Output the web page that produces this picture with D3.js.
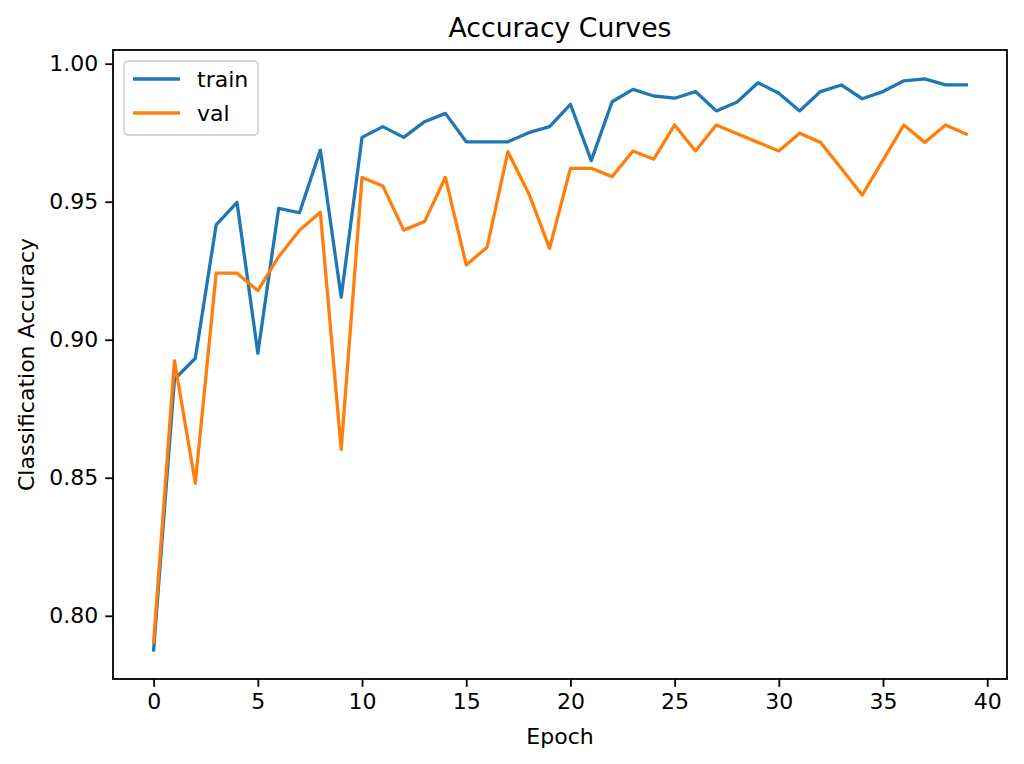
<!DOCTYPE html>
<html>
<head>
<meta charset="utf-8">
<script src="https://d3js.org/d3.v7.min.js"></script>
<style>
  body { margin: 0; background: #fff; }
  svg text { font-family: "DejaVu Sans", sans-serif; fill: #000; }
  .line { fill: none; stroke-width: 3.3px; stroke-linejoin: round; stroke-linecap: square; }
</style>
</head>
<body>
<svg width="1024" height="764"></svg>
<script>
// values
var epochs = d3.range(0, 40);
var trainAcc = [0.7876, 0.8857, 0.8933, 0.9416, 0.9498, 0.8951, 0.9476, 0.9460, 0.9687, 0.9154,
                0.9733, 0.9772, 0.9733, 0.9790, 0.9820, 0.9717, 0.9717, 0.9717, 0.9750, 0.9772,
                0.9853, 0.9649, 0.9862, 0.9907, 0.9883, 0.9875, 0.9899, 0.9829, 0.9861, 0.9931,
                0.9893, 0.9829, 0.9899, 0.9923, 0.9873, 0.9899, 0.9938, 0.9945, 0.9923, 0.9923];
var valAcc = [0.7905, 0.8924, 0.8480, 0.9241, 0.9241, 0.9178, 0.9301, 0.9397, 0.9462, 0.8603,
              0.9588, 0.9557, 0.9397, 0.9428, 0.9588, 0.9271, 0.9335, 0.9681, 0.9530, 0.9331,
              0.9621, 0.9621, 0.9591, 0.9684, 0.9654, 0.9778, 0.9684, 0.9778, 0.9746, 0.9715,
              0.9684, 0.9748, 0.9715, 0.9620, 0.9524, 0.9651, 0.9778, 0.9715, 0.9778, 0.9745];
var xTicks = [0, 5, 10, 15, 20, 25, 30, 35, 40];
var yTicks = [0.80, 0.85, 0.90, 0.95, 1.00];
var seriesNames = ["train", "val"];
var seriesColors = ["#1f77b4", "#ff7f0e"];

// plot box (not "top": that name is taken by window.top)
var pLeft = 113, pRight = 1007, pTop = 50, pBottom = 679;

var svg = d3.select("svg");

var x = d3.scaleLinear().domain([-1.95, 40.95]).range([pLeft, pRight]);
var y = d3.scaleLinear().domain([0.7771, 1.00496]).range([pBottom, pTop]);

// axes
var xAxis = d3.axisBottom(x).tickValues(xTicks).tickSize(7.8).tickPadding(7).tickFormat(d3.format("d"));
var yAxis = d3.axisLeft(y).tickValues(yTicks).tickSize(7.8).tickPadding(7).tickFormat(d3.format(".2f"));

var gx = svg.append("g").attr("transform", "translate(0," + pBottom + ")").call(xAxis);
var gy = svg.append("g").attr("transform", "translate(" + pLeft + ",0)").call(yAxis);
[gx, gy].forEach(function (g) {
  g.select(".domain").remove();
  g.selectAll(".tick line").attr("stroke", "#000").attr("stroke-width", 1.8);
  g.selectAll(".tick text").style("font-size", "22px");
});

// lines
var line = d3.line()
  .x(function (d, i) { return x(epochs[i]); })
  .y(function (d) { return y(d); });

[trainAcc, valAcc].forEach(function (s, k) {
  svg.append("path")
    .datum(s)
    .attr("class", "line")
    .attr("stroke", seriesColors[k])
    .attr("d", line);
});

// frame
svg.append("rect")
  .attr("x", pLeft).attr("y", pTop)
  .attr("width", pRight - pLeft).attr("height", pBottom - pTop)
  .attr("fill", "none").attr("stroke", "#000").attr("stroke-width", 1.8);

// legend
var lg = svg.append("g");
lg.append("rect")
  .attr("x", 124).attr("y", 61).attr("width", 134).attr("height", 74)
  .attr("rx", 4).attr("fill", "#fff").attr("fill-opacity", 0.8)
  .attr("stroke", "#d5d5d5").attr("stroke-width", 1.8);
seriesNames.forEach(function (n, k) {
  var yy = 79 + k * 34;
  lg.append("line")
    .attr("x1", 133).attr("x2", 180).attr("y1", yy).attr("y2", yy)
    .attr("stroke", seriesColors[k]).attr("stroke-width", 3.3);
  lg.append("text")
    .attr("x", 197).attr("y", yy + 8)
    .style("font-size", "22px")
    .text(n);
});

// titles
svg.append("text")
  .attr("x", (pLeft + pRight) / 2).attr("y", 37)
  .attr("text-anchor", "middle")
  .style("font-size", "26.7px")
  .text("Accuracy Curves");

svg.append("text")
  .attr("x", (pLeft + pRight) / 2).attr("y", 744)
  .attr("text-anchor", "middle")
  .style("font-size", "22px")
  .text("Epoch");

svg.append("text")
  .attr("transform", "translate(34," + (pTop + pBottom) / 2 + ") rotate(-90)")
  .attr("text-anchor", "middle")
  .style("font-size", "22px")
  .text("Classification Accuracy");
</script>
</body>
</html>
